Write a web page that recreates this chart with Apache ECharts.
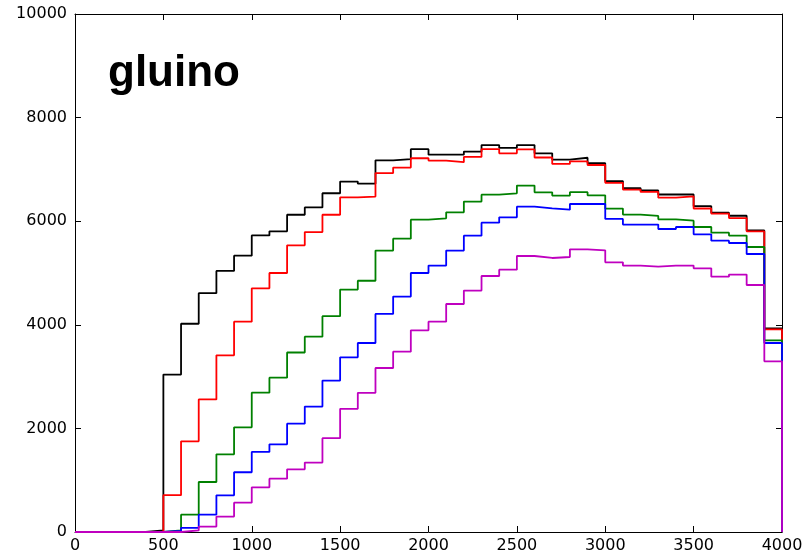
<!DOCTYPE html>
<html>
<head>
<meta charset="utf-8">
<script src="https://cdn.jsdelivr.net/npm/echarts@6/dist/echarts.min.js"></script>
<style>
  html, body { margin: 0; padding: 0; background: #fff; }
  #main { width: 806px; height: 554px; }
</style>
</head>
<body>
<div id="main"></div>
<script>
// bin edges (width 100)
var binEdges = [0, 100, 200, 300, 400, 500, 600, 700, 800, 900,
	1000, 1100, 1200, 1300, 1400, 1500, 1600, 1700, 1800, 1900,
	2000, 2100, 2200, 2300, 2400, 2500, 2600, 2700, 2800, 2900,
	3000, 3100, 3200, 3300, 3400, 3500, 3600, 3700, 3800, 3900, 4000];

var xTicks = [0, 500, 1000, 1500, 2000, 2500, 3000, 3500, 4000];
var yTicks = [0, 2000, 4000, 6000, 8000, 10000];

var blackVals = [0, 0, 0, 0, 30, 3040, 4020, 4610, 5040, 5335,
	5725, 5805, 6125, 6265, 6540, 6765, 6725, 7175, 7200, 7390,
	7285, 7285, 7345, 7470, 7415, 7470, 7310, 7190, 7225, 7120,
	6775, 6640, 6595, 6515, 6515, 6290, 6165, 6105, 5820, 3930];

var redVals = [0, 0, 0, 0, 0, 710, 1750, 2560, 3410, 4060,
	4705, 5000, 5535, 5790, 6125, 6460, 6475, 6930, 7035, 7215,
	7170, 7140, 7240, 7390, 7310, 7385, 7230, 7105, 7155, 7085,
	6740, 6610, 6565, 6455, 6480, 6245, 6145, 6060, 5805, 3910];

var greenVals = [0, 0, 0, 0, 0, 30, 335, 965, 1500, 2020,
	2690, 2980, 3465, 3770, 4167, 4680, 4850, 5432, 5663, 6030,
	6056, 6172, 6378, 6513, 6539, 6687, 6558, 6494, 6560, 6500,
	6243, 6127, 6101, 6037, 6011, 5888, 5779, 5722, 5502, 3701];

var blueVals = [0, 0, 0, 0, 0, 20, 80, 335, 708, 1153,
	1545, 1693, 2092, 2421, 2923, 3372, 3649, 4209, 4544, 5000,
	5143, 5432, 5721, 5972, 6075, 6281, 6249, 6223, 6332, 6332,
	6043, 5934, 5934, 5849, 5888, 5747, 5625, 5579, 5367, 3649];

var magentaVals = [0, 0, 0, 0, 0, 0, 30, 105, 297, 567,
	863, 1030, 1210, 1340, 1812, 2378, 2687, 3166, 3482, 3894,
	4061, 4402, 4660, 4942, 5065, 5328, 5290, 5309, 5457, 5438,
	5207, 5143, 5123, 5143, 5143, 5090, 4930, 4969, 4768, 3295];

// step outline: each bin held until the next edge, then drop to 0 at the end
function histPoints(vals) {
	var pts = [];
	for (var i = 0; i < vals.length; i++) {
		pts.push([binEdges[i], vals[i]]);
	}
	var last = binEdges[binEdges.length - 1];
	pts.push([last, vals[vals.length - 1]]);
	pts.push([last, 0]);
	return pts;
}

function stepSeries(name, vals, color) {
	return {
		name: name,
		type: 'line',
		step: 'end',
		symbol: 'none',
		clip: false,
		data: histPoints(vals),
		lineStyle: { color: color, width: 1.8 },
		xAxisIndex: 0,
		yAxisIndex: 0
	};
}

function frameAxis(pos, ticks, interval, showLabel, margin) {
	return {
		type: 'value',
		position: pos,
		min: ticks[0],
		max: ticks[ticks.length - 1],
		interval: interval,
		axisLine: { show: true, onZero: false, lineStyle: { color: '#000', width: 1 } },
		axisTick: { show: true, inside: true, length: 6, lineStyle: { color: '#000', width: 1 } },
		splitLine: { show: false },
		axisLabel: {
			show: showLabel,
			margin: margin,
			color: '#000',
			fontFamily: 'DejaVu Sans',
			fontSize: 16,
			formatter: function (v) { return String(v); }
		}
	};
}

var myChart = echarts.init(document.getElementById('main'));
var option = {
	animation: false,
	backgroundColor: '#fff',
	grid: { left: 75, right: 24, top: 14, bottom: 22, containLabel: false },
	graphic: [{
		type: 'text',
		left: 108,
		top: 52,
		style: {
			text: 'gluino',
			fill: '#000',
			font: 'bold 44px "Liberation Sans"'
		}
	}],
	xAxis: [
		frameAxis('bottom', xTicks, 500, true, 6),
		frameAxis('top', xTicks, 500, false, 6)
	],
	yAxis: [
		frameAxis('left', yTicks, 2000, true, 8),
		frameAxis('right', yTicks, 2000, false, 8)
	],
	series: [
		stepSeries('black', blackVals, '#000000'),
		stepSeries('red', redVals, '#ff0000'),
		stepSeries('green', greenVals, '#008000'),
		stepSeries('blue', blueVals, '#0000ff'),
		stepSeries('magenta', magentaVals, '#bf00bf')
	]
};
myChart.setOption(option);
</script>
</body>
</html>
